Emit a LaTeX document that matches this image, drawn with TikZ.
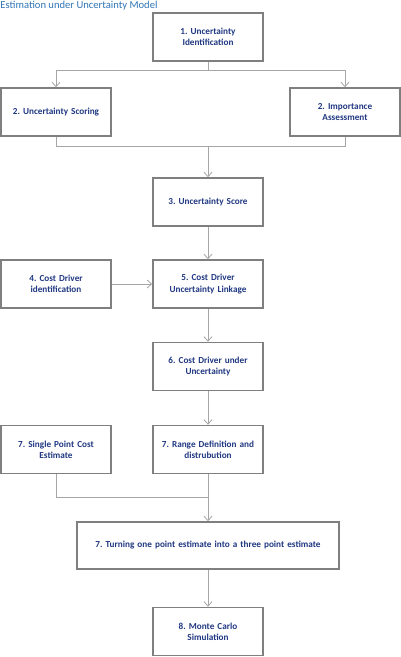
\documentclass[tikz,border=0pt]{standalone}
\usepackage{fontspec}
\setmainfont{Carlito}
\usetikzlibrary{arrows.meta}
\frenchspacing
\definecolor{boxgray}{RGB}{127,127,127}
\definecolor{linegray}{RGB}{166,166,166}
\definecolor{textblue}{RGB}{32,56,130}
\definecolor{titleblue}{RGB}{46,116,181}
\tikzset{
    stepbox/.style={draw=boxgray, line width=1.5pt, fill=white, minimum width=110pt,
        minimum height=48pt, text width=104pt, align=center, inner sep=0pt,
        text=textblue, font=\fontsize{9.2}{11.3}\selectfont\bfseries},
    conn/.style={draw=linegray, line width=0.8pt},
    arr/.style={conn, -{Straight Barb[length=4.5pt,width=8pt]}}
}
\begin{document}
\begin{tikzpicture}[x=1pt,y=-1pt]
                        \useasboundingbox (0,0) rectangle (401,657);
                        \node[anchor=base west, inner sep=0pt, text=titleblue, font=\fontsize{10.6}{12}\selectfont] (title) at (0.3,8.5) {Estimation under Uncertainty Model};

                        \node[stepbox] (ident) at (208,37) {1. Uncertainty\\Identification};
                        \node[stepbox] (scoring) at (56,112) {2. Uncertainty Scoring};
                        \node[stepbox] (importance) at (345,112) {2. Importance\\Assessment};
                        \node[stepbox] (score) at (208,202) {3. Uncertainty Score};
                        \node[stepbox] (driverid) at (56,284) {4. Cost Driver\\identification};
                        \node[stepbox] (linkage) at (208,284) {5. Cost Driver\\Uncertainty Linkage};
                        \node[stepbox] (driverunc) at (208,366.5) {6. Cost Driver under\\Uncertainty};
                        \node[stepbox] (single) at (56,449.5) {7. Single Point Cost\\Estimate};
                        \node[stepbox] (range) at (208,449.5) {7. Range Definition and\\distrubution};
                        \node[stepbox, minimum width=262pt, minimum height=47pt, text width=255pt] (threepoint) at (208,545.5) {7. Turning one point estimate into a three point estimate};
                        \node[stepbox] (montecarlo) at (208,631.5) {8. Monte Carlo\\Simulation};

                        \coordinate (join1) at (208,146.5);
                        \coordinate (join2) at (208,497);

                        \draw[arr] (ident.south) -- ++(0,9) -| (scoring.north);
                        \draw[arr] (ident.south) -- ++(0,9) -| (importance.north);
                        \draw[conn] (scoring.south) |- (join1) -| (importance.south);
                        \draw[arr] (join1) -- (score.north);
                        \draw[arr] (score.south) -- (linkage.north);
                        \draw[arr] (driverid.east) -- (linkage.west);
                        \draw[arr] (linkage.south) -- (driverunc.north);
                        \draw[arr] (driverunc.south) -- (range.north);
                        \draw[conn] (single.south) |- (join2);
                        \draw[arr] (range.south) -- (threepoint.north);
                        \draw[arr] (threepoint.south) -- (montecarlo.north);
                    \end{tikzpicture}
\end{document}
